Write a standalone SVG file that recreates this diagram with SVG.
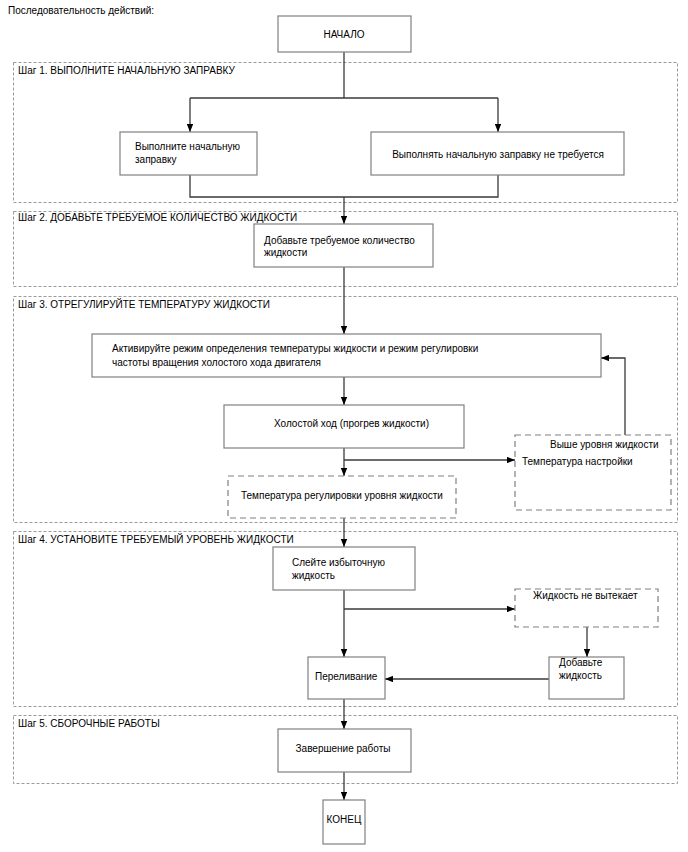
<svg xmlns="http://www.w3.org/2000/svg" width="688" height="852" viewBox="0 0 688 852">
<defs>
<style>
text{font-family:"Liberation Sans",Arial,sans-serif;font-size:10px;fill:#000}
.step{fill:none;stroke:#9a9a9a;stroke-width:1;stroke-dasharray:3,2}
.box{fill:#fff;stroke:#808080;stroke-width:1.2}
.dbox{fill:#fff;stroke:#808080;stroke-width:1.2;stroke-dasharray:6,4}
.c{fill:none;stroke:#3a3a3a;stroke-width:1.3}
.ca{fill:none;stroke:#3a3a3a;stroke-width:1.3;marker-end:url(#ah)}
.mid{text-anchor:middle}
</style>
<marker id="ah" viewBox="0 0 10 8" refX="10" refY="4" markerWidth="8" markerHeight="6.4" markerUnits="userSpaceOnUse" orient="auto">
<path d="M0,0 L10,4 L0,8 z" fill="#000"/>
</marker>
</defs>
<rect width="688" height="852" fill="#fff"/>
<text x="8" y="14">Последовательность действий:</text>

<g id="steps">
<g id="step1"><rect class="step" x="13.5" y="62.5" width="664" height="140"/><text x="18" y="74">Шаг 1. ВЫПОЛНИТЕ НАЧАЛЬНУЮ ЗАПРАВКУ</text></g>
<g id="step2"><rect class="step" x="13.5" y="211.5" width="664" height="75"/><text x="18" y="221">Шаг 2. ДОБАВЬТЕ ТРЕБУЕМОЕ КОЛИЧЕСТВО ЖИДКОСТИ</text></g>
<g id="step3"><rect class="step" x="13.5" y="296.5" width="664" height="226"/><text x="18" y="308">Шаг 3. ОТРЕГУЛИРУЙТЕ ТЕМПЕРАТУРУ ЖИДКОСТИ</text></g>
<g id="step4"><rect class="step" x="13.5" y="531.5" width="664" height="175"/><text x="18" y="543">Шаг 4. УСТАНОВИТЕ ТРЕБУЕМЫЙ УРОВЕНЬ ЖИДКОСТИ</text></g>
<g id="step5"><rect class="step" x="13.5" y="715.5" width="664" height="68"/><text x="18" y="727">Шаг 5. СБОРОЧНЫЕ РАБОТЫ</text></g>
</g>

<g id="connectors">
<path class="c" d="M344,52 V98"/>
<path class="c" d="M190,98 H498"/>
<path class="ca" d="M190,98 V132"/>
<path class="ca" d="M498,98 V132"/>
<path class="c" d="M190,175 V197 H498 V175"/>
<path class="ca" d="M344,197 V224"/>
<path class="ca" d="M344,267 V334"/>
<path class="ca" d="M344,377 V405"/>
<path class="ca" d="M344,448 V476"/>
<path class="ca" d="M344,460 H515"/>
<path class="ca" d="M625,435 V358 H601"/>
<path class="ca" d="M344,518 V547"/>
<path class="ca" d="M344,590 V657"/>
<path class="ca" d="M344,609 H515"/>
<path class="ca" d="M587,627 V657"/>
<path class="ca" d="M549,679 H385"/>
<path class="ca" d="M344,699 V729"/>
<path class="ca" d="M344,772 V800"/>
</g>

<g id="start"><rect class="box" x="278" y="16" width="133" height="36"/><text class="mid" x="344" y="38">НАЧАЛО</text></g>
<g id="n1a"><rect class="box" x="120" y="132" width="137" height="43"/><text x="135" y="150">Выполните начальную</text><text x="135" y="163">заправку</text></g>
<g id="n1b"><rect class="box" x="371" y="132" width="253" height="43"/><text class="mid" x="498" y="158">Выполнять начальную заправку не требуется</text></g>
<g id="n2"><rect class="box" x="254" y="224" width="179" height="43"/><text x="264" y="244">Добавьте требуемое количество</text><text x="264" y="256">жидкости</text></g>
<g id="n3a"><rect class="box" x="92" y="334" width="509" height="43"/><text x="112" y="352">Активируйте режим определения температуры жидкости и режим регулировки</text><text x="112" y="366">частоты вращения холостого хода двигателя</text></g>
<g id="n3b"><rect class="box" x="224" y="405" width="240" height="43"/><text x="274" y="427">Холостой ход (прогрев жидкости)</text></g>
<g id="n3c"><rect class="dbox" x="228" y="476" width="228" height="42"/><text x="241" y="499">Температура регулировки уровня жидкости</text></g>
<g id="n3d"><rect class="dbox" x="515" y="435" width="156" height="75"/><text x="550" y="448">Выше уровня жидкости</text><text x="522" y="465">Температура настройки</text></g>
<g id="n4a"><rect class="box" x="273" y="547" width="142" height="43"/><text x="292" y="566">Слейте избыточную</text><text x="292" y="579">жидкость</text></g>
<g id="n4b"><rect class="dbox" x="515" y="589" width="143" height="38"/><text x="533" y="599">Жидкость не вытекает</text></g>
<g id="n4c"><rect class="box" x="549" y="657" width="75" height="42"/><text x="559" y="666">Добавьте</text><text x="559" y="679">жидкость</text></g>
<g id="n4d"><rect class="box" x="308" y="657" width="77" height="42"/><text x="315" y="680">Переливание</text></g>
<g id="n5"><rect class="box" x="278" y="729" width="133" height="43"/><text class="mid" x="343" y="752">Завершение работы</text></g>
<g id="end"><rect class="box" x="323" y="800" width="42" height="44"/><text class="mid" x="344" y="823">КОНЕЦ</text></g>
</svg>
